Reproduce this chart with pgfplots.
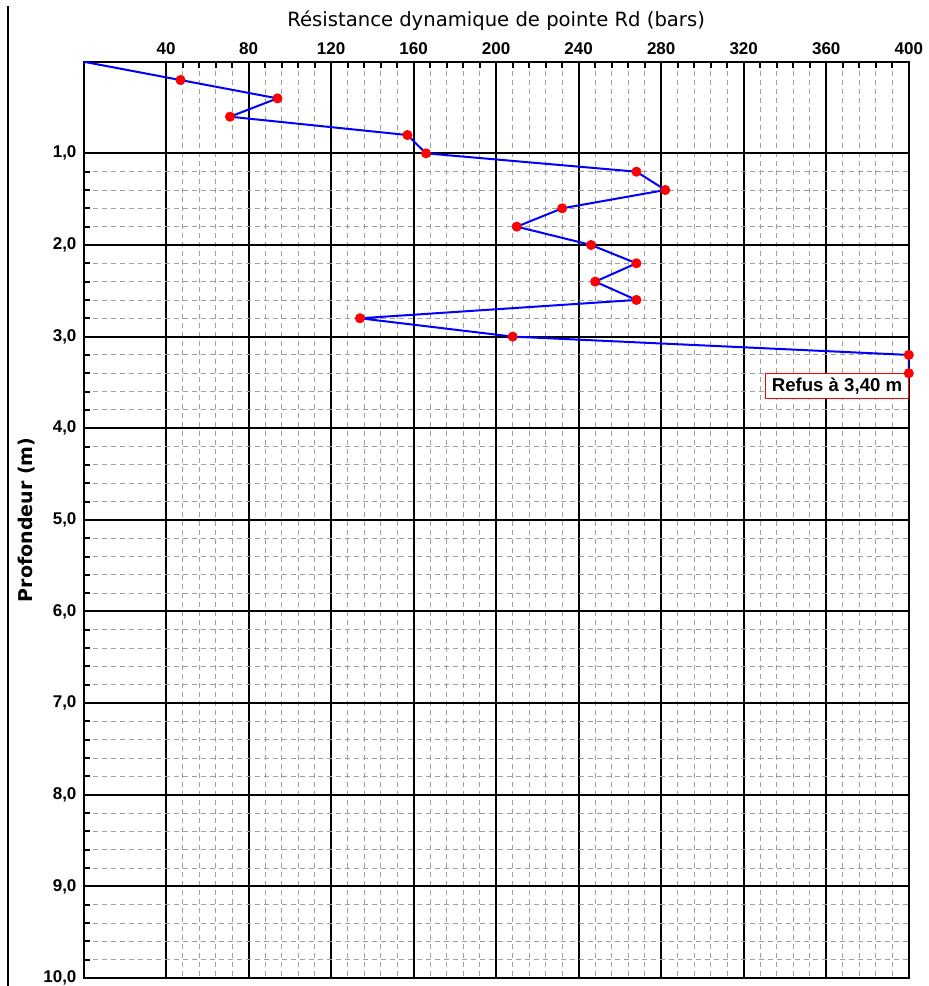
\documentclass[border=0pt]{standalone}
\usepackage{pgfplots}
\pgfplotsset{compat=1.18}
\usepackage{fontspec}
\setmainfont{Liberation Sans}
\newfontfamily\dejavu{DejaVu Sans}
\begin{document}
\begin{tikzpicture}
\useasboundingbox (-41.75pt,-4pt) rectangle (422.25pt,488.85pt);
\draw[line width=1pt] (-37.75pt,-4pt) -- (-37.75pt,486pt);
\begin{axis}[
  at={(0,0)}, anchor=south west,
  scale only axis, width=412.5pt, height=458pt,
  xmin=0, xmax=400, ymin=0, ymax=10, y dir=reverse,
  xtick={40,80,...,400}, ytick={1,2,...,10},
  minor x tick num=4, minor y tick num=4,
  xtick pos=right, xticklabel pos=right,
  ytick pos=left, yticklabel pos=left,
  grid=both,
  major grid style={black, line width=1pt},
  minor grid style={gray!75, dash pattern=on 2.5pt off 2pt, line width=0.45pt},
  axis line style={black, line width=1pt},
  major tick length=0pt, minor tick length=3pt,
  minor tick style={black, line width=1pt},
  /pgf/number format/assume math mode=true,
  tick label style={font=\bfseries\fontsize{8.5}{9}\selectfont},
  yticklabel style={/pgf/number format/.cd, fixed, fixed zerofill, precision=1, use comma},
  xlabel={Résistance dynamique de pointe Rd (bars)},
  xlabel style={font=\dejavu\fontsize{9.8}{11}\selectfont, yshift=-1pt},
  ylabel={Profondeur (m)},
  ylabel style={font=\dejavu\bfseries\fontsize{9.5}{11}\selectfont, yshift=-2.5pt},
  clip mode=individual,
]
\node[draw=red, fill=white, anchor=north east, font=\bfseries\fontsize{9.3}{10}\selectfont,
  inner xsep=3pt, inner ysep=0pt, minimum height=12.5pt, line width=0.6pt]
  at (axis cs:400,3.4) {Refus à 3,40 m};
\addplot[blue, line width=1pt, no markers] coordinates {
  (0,0) (47,0.2) (94,0.4) (71,0.6) (157,0.8) (166,1.0) (268,1.2) (282,1.4)
  (232,1.6) (210,1.8) (246,2.0) (268,2.2) (248,2.4) (268,2.6) (134,2.8)
  (208,3.0) (400,3.2) (400,3.4)};
\addplot[only marks, mark=*, mark size=2.3pt, red] coordinates {
  (47,0.2) (94,0.4) (71,0.6) (157,0.8) (166,1.0) (268,1.2) (282,1.4)
  (232,1.6) (210,1.8) (246,2.0) (268,2.2) (248,2.4) (268,2.6) (134,2.8)
  (208,3.0) (400,3.2) (400,3.4)};
\end{axis}
\end{tikzpicture}
\end{document}
